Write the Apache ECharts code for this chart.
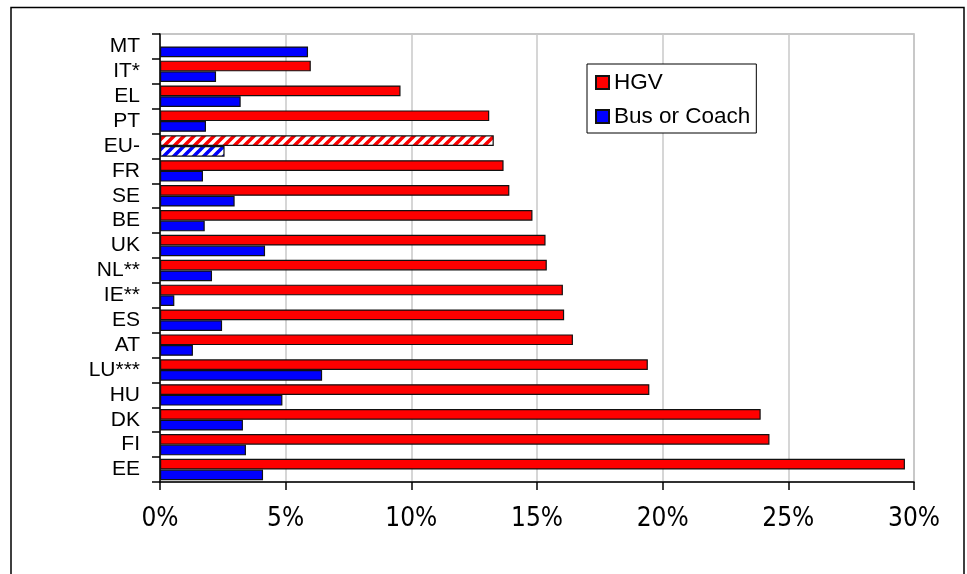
<!DOCTYPE html>
<html>
<head>
<meta charset="utf-8">
<title>HGV and bus or coach share</title>
<script src="https://cdn.jsdelivr.net/npm/echarts@6/dist/echarts.min.js"></script>
<style>
  html, body { margin: 0; padding: 0; background: #fff; }
  #chart { width: 967px; height: 574px; }
</style>
</head>
<body>
<div id="chart"></div>
<script>
// Countries, top to bottom
const categories = ['MT', 'IT*', 'EL', 'PT', 'EU-', 'FR', 'SE', 'BE', 'UK', 'NL**', 'IE**', 'ES', 'AT', 'LU***', 'HU', 'DK', 'FI', 'EE'];
// Share (%) for heavy goods vehicles
const hgv = [null, 6.0, 9.57, 13.1, 13.28, 13.67, 13.9, 14.82, 15.34, 15.39, 16.03, 16.08, 16.43, 19.41, 19.47, 23.9, 24.25, 29.64];
// Share (%) for buses and coaches
const bus = [5.89, 2.23, 3.21, 1.83, 2.57, 1.71, 2.97, 1.78, 4.18, 2.07, 0.57, 2.47, 1.31, 6.45, 4.87, 3.30, 3.42, 4.10];
// Axis ticks (%)
const xTicks = [0, 5, 10, 15, 20, 25, 30];
// Row drawn with a hatched fill (EU average)
const hatchedCategory = 'EU-';

const RED = '#ff0000';
const BLUE = '#0000ff';

// Diagonal stripe texture on white
function stripes(color) {
  const n = 10;
  const c = document.createElement('canvas');
  c.width = n; c.height = n;
  const g = c.getContext('2d');
  g.fillStyle = '#ffffff';
  g.fillRect(0, 0, n, n);
  g.strokeStyle = color;
  g.lineWidth = 3.6;
  g.beginPath();
  for (let k = -1; k <= 1; k++) {
    g.moveTo(k * n - 1, n + 1);
    g.lineTo(k * n + n + 1, -1);
  }
  g.stroke();
  return c;
}

function withHatch(values, color) {
  const pattern = { image: stripes(color), repeat: 'repeat' };
  return values.map((v, i) => {
    if (categories[i] === hatchedCategory && v != null) {
      return { value: v, itemStyle: { color: pattern } };
    }
    return v;
  });
}

const chart = echarts.init(document.getElementById('chart'), null, { renderer: 'canvas' });

const option = {
  animation: false,
  backgroundColor: '#ffffff',
  textStyle: { fontFamily: 'Liberation Sans, Arial, sans-serif' },
  graphic: [{
    type: 'rect',
    shape: { x: 11, y: 7.5, width: 953, height: 640 },
    style: { fill: null, stroke: '#000', lineWidth: 1.5 },
    silent: true,
    z: -1
  }],
  grid: {
    left: 160, top: 34, right: 53, bottom: 92,
    show: true, borderColor: '#b4b4b4', borderWidth: 1.5, backgroundColor: 'transparent'
  },
  legend: {
    orient: 'vertical',
    left: 587, top: 64,
    padding: [7, 6, 5, 8],
    itemGap: 11,
    itemWidth: 13, itemHeight: 13,
    icon: 'rect',
    backgroundColor: '#fff',
    borderColor: '#000', borderWidth: 1,
    textStyle: { fontSize: 22.5, color: '#000', lineHeight: 23, fontFamily: 'Liberation Sans, Arial, sans-serif' },
    data: ['HGV', 'Bus or Coach']
  },
  xAxis: {
    type: 'value',
    min: xTicks[0], max: xTicks[xTicks.length - 1], interval: 5,
    axisLine: { show: true, lineStyle: { color: '#000', width: 1.5 } },
    axisTick: { show: true, length: 8, lineStyle: { color: '#000', width: 1.5 } },
    splitLine: { show: true, lineStyle: { color: '#c8c8c8', width: 1.5 } },
    axisLabel: {
      margin: 24,
      fontSize: 26,
      color: '#000',
      fontFamily: '"Liberation Sans Narrow", "DejaVu Sans Condensed", "Liberation Sans", sans-serif',
      formatter: '{value}%'
    }
  },
  yAxis: {
    type: 'category',
    data: categories,
    inverse: true,
    axisLine: { show: true, lineStyle: { color: '#000', width: 1.5 } },
    axisTick: { show: true, length: 8, lineStyle: { color: '#000', width: 1.5 } },
    axisLabel: {
      interval: 0,
      hideOverlap: false,
      margin: 20,
      fontSize: 21,
      lineHeight: 22,
      color: '#000',
      fontFamily: 'Liberation Sans, Arial, sans-serif'
    }
  },
  series: [
    {
      name: 'HGV',
      type: 'bar',
      data: withHatch(hgv, RED),
      barGap: '0%',
      barCategoryGap: '14%',
      itemStyle: { color: RED, borderColor: '#111', borderWidth: 1.2 }
    },
    {
      name: 'Bus or Coach',
      type: 'bar',
      data: withHatch(bus, BLUE),
      barGap: '0%',
      barCategoryGap: '14%',
      itemStyle: { color: BLUE, borderColor: '#111', borderWidth: 1.2 }
    }
  ]
};

chart.setOption(option);
</script>
</body>
</html>
